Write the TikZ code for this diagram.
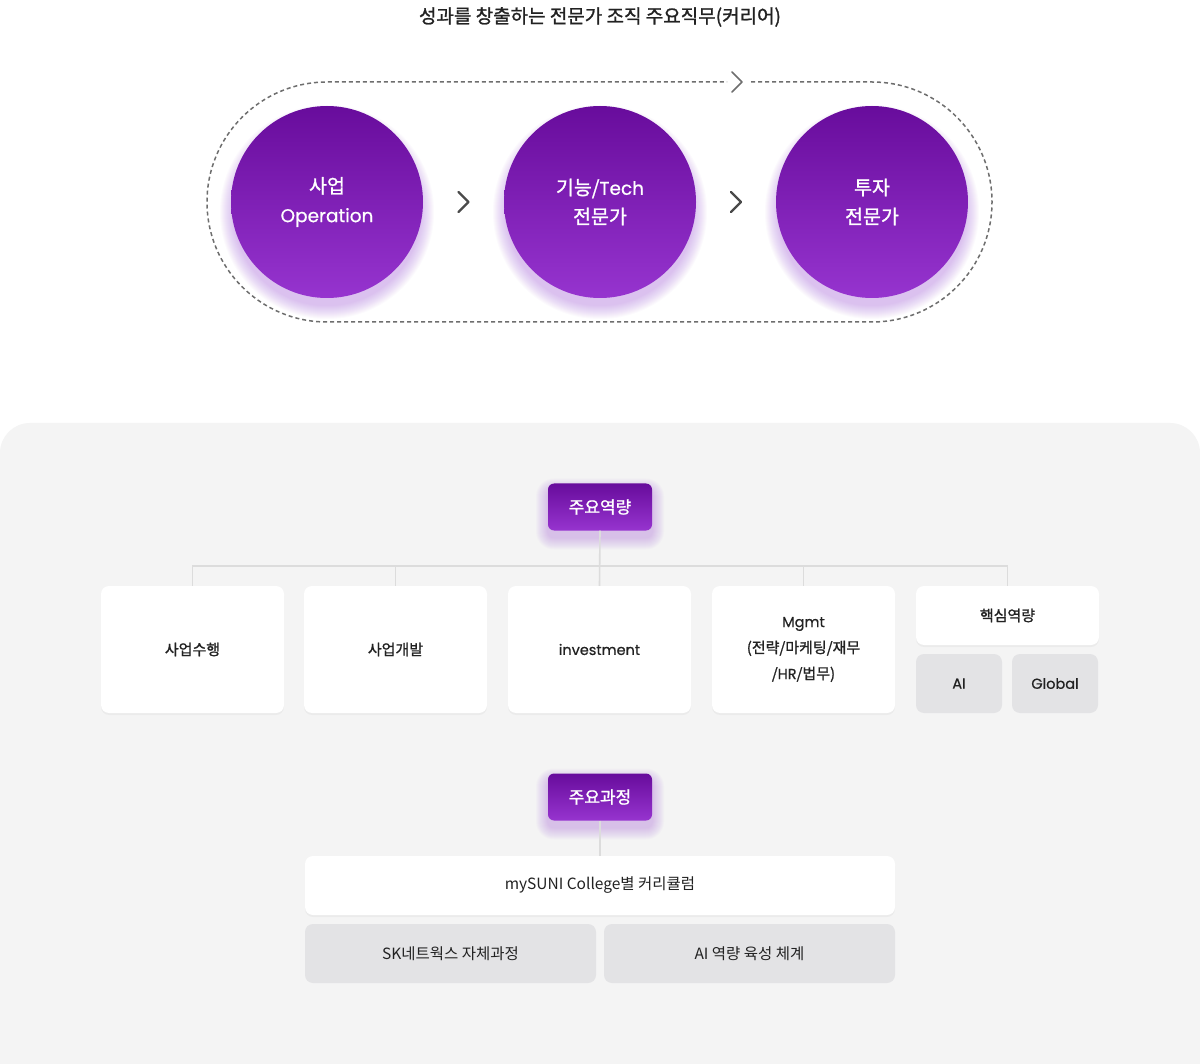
\documentclass[tikz,border=0pt]{standalone}
\usepackage{fontspec}
\setmainfont{Noto Sans CJK KR}
\newfontfamily\lat{Poppins}[FakeBold=0.6]
\newfontfamily\med{Noto Sans CJK KR}[FakeBold=1.2]
\usetikzlibrary{shadows,calc}
\definecolor{ptop}{HTML}{680C9C}
\definecolor{pbot}{HTML}{9634CF}
\definecolor{glowc}{HTML}{A864DC}
\definecolor{panel}{HTML}{F4F4F4}
\definecolor{graybox}{HTML}{E3E3E5}
\definecolor{txt}{HTML}{222222}
\definecolor{linec}{HTML}{DCDCDC}
\definecolor{dashc}{HTML}{6E6E6E}
\definecolor{chev}{HTML}{4A4A4A}
\begin{document}
\begin{tikzpicture}[x=1pt,y=1pt,
  circ/.style={circle, minimum size=192pt, inner sep=0pt, top color=ptop, bottom color=pbot,
    text=white, align=center, font=\med\fontsize{19.5}{29}\selectfont},
  kbtn/.style={rectangle, rounded corners=6pt, minimum width=104pt, minimum height=47pt,
    inner sep=0pt, top color=ptop, bottom color=pbot, text=white, font=\med\fontsize{17}{20}\selectfont},
  wbox/.style={rectangle, rounded corners=8pt, fill=white, inner sep=0pt, align=center, text=txt,
    drop shadow={opacity=0.07, shadow xshift=0pt, shadow yshift=-2pt},
    font=\med\fontsize{15}{26}\selectfont},
  gbox/.style={rectangle, rounded corners=8pt, fill=graybox, inner sep=0pt, align=center, text=txt,
    font=\fontsize{15.5}{20}\selectfont},
  tree/.style={draw=linec, line width=1.6pt},
  chevron/.style={draw=chev, line width=2.4pt, line cap=round, line join=round},
  loop/.style={draw=dashc, line width=1.5pt, dash pattern=on 4pt off 3pt}
]
\useasboundingbox (0,0) rectangle (1200,-1064);
\fill[white] (0,0) rectangle (1200,-1064);

% title
\node[font=\med\fontsize{19}{22}\selectfont, text=txt] (title) at (600,-17) {성과를 창출하는 전문가 조직 주요직무(커리어)};

% dashed loop
\draw[loop, rounded corners=120pt] (751,-82) -- (992,-82) -- (992,-322) -- (207,-322) -- (207,-82) -- (727,-82);
\coordinate (topchev) at (742,-82);
\draw[draw=dashc, line width=1.6pt, line cap=round, line join=round]
  ($(topchev)+(-10,10)$) -- (topchev) -- ($(topchev)+(-10,-10)$);

% glows
\foreach \cx in {327,600,872}{
  \foreach \k in {1,...,14}{
    \fill[glowc, opacity=0.03] (\cx,-212) circle ({93+\k});
  }
}

% circles
\node[circ] (c1) at (327,-202) {사업\\{\lat\fontsize{18.5}{29}\selectfont Operation}};
\node[circ] (c2) at (600,-202) {기능/{\lat\fontsize{18.5}{29}\selectfont Tech}\\전문가};
\node[circ] (c3) at (872,-202) {투자\\전문가};

\draw[chevron] ($(c1.east)!0.5!(c2.west)+(-5,10)$) -- ($(c1.east)!0.5!(c2.west)+(5,0)$) -- ($(c1.east)!0.5!(c2.west)+(-5,-10)$);
\draw[chevron] ($(c2.east)!0.5!(c3.west)+(-5,10)$) -- ($(c2.east)!0.5!(c3.west)+(5,0)$) -- ($(c2.east)!0.5!(c3.west)+(-5,-10)$);

% panel
\fill[panel] (0,-1064) [rounded corners=30pt] -- (0,-423) -- (1200,-423) [sharp corners] -- (1200,-1064) -- cycle;

% button glows
\foreach \by in {-507,-797}{
  \foreach \k in {1,...,12}{
    \fill[glowc, opacity=0.03, rounded corners={6+\k}] ({548-\k},{\by+23.5-7+\k}) rectangle ({652+\k},{\by-23.5-7-\k});
  }
}

% key competencies
\node[kbtn] (k1) at (600,-507) {주요역량};

\node[wbox, minimum width=183pt, minimum height=127pt] (b1) at (192.5,-649.5) {사업수행};
\node[wbox, minimum width=183pt, minimum height=127pt] (b2) at (395.5,-649.5) {사업개발};
\node[wbox, minimum width=183pt, minimum height=127pt] (b3) at (599.5,-649.5) {{\lat\fontsize{14.5}{26}\selectfont investment}};
\node[wbox, minimum width=183pt, minimum height=127pt] (b4) at (803.5,-649.5) {{\lat\fontsize{14.5}{26}\selectfont Mgmt}\\(전략/마케팅/재무\\/{\lat\fontsize{14.5}{26}\selectfont HR}/법무)};
\node[wbox, minimum width=183pt, minimum height=59pt] (b5) at (1007.5,-615.5) {핵심역량};
\node[gbox, minimum width=86pt, minimum height=59pt] (b6) at (959,-683.5) {{\lat\fontsize{14.5}{20}\selectfont AI}};
\node[gbox, minimum width=86pt, minimum height=59pt] (b7) at (1055,-683.5) {{\lat\fontsize{14.5}{20}\selectfont Global}};

\coordinate (hub) at (600,-566);
\draw[tree] (k1.south) -- (b3.north);
\draw[tree] (b1.north) |- (hub) -| (b5.north);
\draw[tree] (b2.north) -- (b2.north |- hub);
\draw[tree] (b4.north) -- (b4.north |- hub);

% key courses
\node[kbtn] (k2) at (600,-797) {주요과정};
\node[wbox, minimum width=590pt, minimum height=59pt, font=\fontsize{15.5}{20}\selectfont] (m1) at (600,-885.5) {mySUNI College별 커리큘럼};
\node[gbox, minimum width=291pt, minimum height=59pt] (m2) at (450.5,-953.5) {SK네트웍스 자체과정};
\node[gbox, minimum width=291pt, minimum height=59pt] (m3) at (749.5,-953.5) {AI 역량 육성 체계};
\draw[tree] (k2.south) -- (m1.north);
\end{tikzpicture}
\end{document}
